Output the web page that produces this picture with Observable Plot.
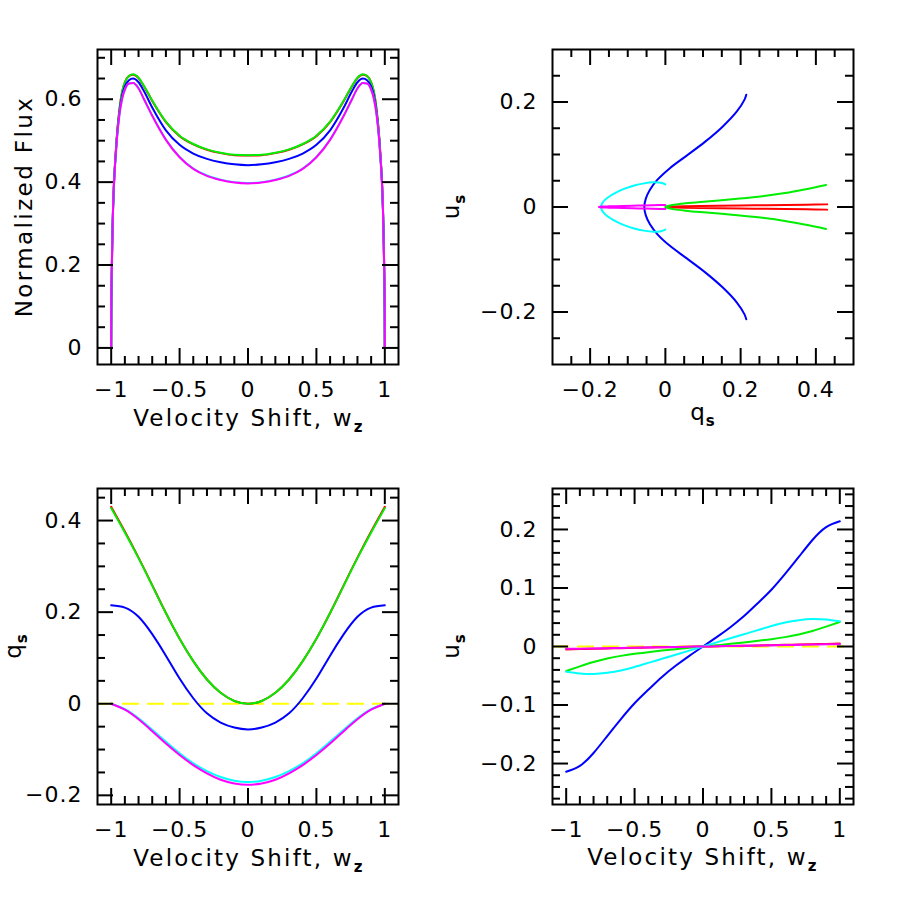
<!DOCTYPE html>
<html><head><meta charset="utf-8">
<script src="https://cdn.jsdelivr.net/npm/d3@7"></script>
<script src="https://cdn.jsdelivr.net/npm/@observablehq/plot@0.6"></script>
<style>
body{margin:0;background:#fff;}
#chart{position:relative;width:900px;height:900px;background:#fff;}
#chart svg{position:absolute;overflow:visible;}
</style></head><body><div id="chart"></div>
<script>
// ---------- data ----------
const seriesNames = ["red", "green", "blue", "cyan", "magenta"];
const seriesColors = ["#ff0000", "#00ee00", "#0000ff", "#00ffff", "#ff00ff"];
const zeroColor = "#ffff00";

// flux profiles (panel 1)
const fluxW = [-1,-0.999,-0.995,-0.99,-0.98,-0.97,-0.96,-0.94,-0.92,-0.9,-0.87,-0.84,-0.8,-0.76,-0.7,-0.6,-0.5,-0.4,-0.3,-0.2,-0.1,0,
  0.1,0.2,0.3,0.4,0.5,0.6,0.7,0.76,0.8,0.84,0.87,0.9,0.92,0.94,0.96,0.97,0.98,0.99,0.995,0.999,1];
const fluxRed = [0,0.09,0.20,0.29,0.395,0.455,0.505,0.575,0.618,0.641,0.656,0.659,0.651,0.631,0.596,0.545,0.511,0.491,0.478,0.470,0.465,0.464,
  0.465,0.470,0.478,0.491,0.511,0.545,0.596,0.631,0.651,0.659,0.656,0.641,0.618,0.575,0.505,0.455,0.395,0.29,0.20,0.09,0];
const fluxGreen = [0,0.09,0.20,0.29,0.395,0.455,0.505,0.575,0.618,0.641,0.656,0.660,0.652,0.632,0.597,0.546,0.512,0.492,0.479,0.471,0.466,0.465,
  0.466,0.471,0.479,0.492,0.512,0.546,0.597,0.632,0.652,0.660,0.656,0.641,0.618,0.575,0.505,0.455,0.395,0.29,0.20,0.09,0];
const fluxBlue = [0,0.09,0.20,0.29,0.393,0.452,0.500,0.568,0.609,0.631,0.646,0.650,0.641,0.619,0.580,0.525,0.490,0.469,0.456,0.448,0.443,0.441,
  0.443,0.448,0.456,0.469,0.490,0.525,0.580,0.619,0.641,0.650,0.646,0.631,0.609,0.568,0.500,0.452,0.393,0.29,0.20,0.09,0];
const fluxCyan = [0,0.09,0.20,0.29,0.392,0.450,0.497,0.562,0.601,0.623,0.638,0.639,0.627,0.600,0.561,0.503,0.461,0.433,0.416,0.406,0.400,0.398,
  0.400,0.406,0.416,0.433,0.461,0.503,0.561,0.600,0.627,0.639,0.638,0.623,0.601,0.562,0.497,0.450,0.392,0.29,0.20,0.09,0];
const fluxMagenta = [0,0.09,0.20,0.29,0.392,0.450,0.497,0.562,0.601,0.623,0.638,0.639,0.626,0.600,0.560,0.502,0.460,0.432,0.415,0.405,0.399,0.397,
  0.399,0.405,0.415,0.432,0.460,0.502,0.560,0.600,0.626,0.639,0.638,0.623,0.601,0.562,0.497,0.450,0.392,0.29,0.20,0.09,0];

// polarization q_s and u_s vs velocity shift (panels 2-4)
const polW = [-1,-0.9,-0.8,-0.7,-0.6,-0.5,-0.4,-0.3,-0.2,-0.1,0,0.1,0.2,0.3,0.4,0.5,0.6,0.7,0.8,0.9,1];
const qRed = [0.430,0.376,0.319,0.259,0.198,0.142,0.093,0.053,0.024,0.006,0,0.006,0.024,0.053,0.093,0.142,0.198,0.259,0.319,0.376,0.430];
const qGreen = [0.427,0.374,0.318,0.258,0.198,0.142,0.093,0.053,0.024,0.006,0,0.006,0.024,0.053,0.093,0.142,0.198,0.258,0.318,0.374,0.427];
const qBlue = [0.215,0.210,0.190,0.152,0.105,0.055,0.012,-0.021,-0.041,-0.052,-0.056,-0.052,-0.041,-0.021,0.012,0.055,0.105,0.152,0.190,0.210,0.215];
const qCyan = [0,-0.012,-0.032,-0.057,-0.083,-0.108,-0.130,-0.147,-0.160,-0.168,-0.171,-0.168,-0.160,-0.147,-0.130,-0.108,-0.083,-0.057,-0.032,-0.012,0];
const qMagenta = [0,-0.013,-0.034,-0.060,-0.087,-0.112,-0.134,-0.152,-0.166,-0.174,-0.177,-0.174,-0.166,-0.152,-0.134,-0.112,-0.087,-0.060,-0.034,-0.013,0];
const uRed = [-0.005,-0.0044,-0.0038,-0.0033,-0.0028,-0.0023,-0.0018,-0.0013,-0.0009,-0.0004,0,0.0004,0.0009,0.0013,0.0018,0.0023,0.0028,0.0033,0.0038,0.0044,0.005];
const uGreen = [-0.042,-0.034,-0.0265,-0.0205,-0.016,-0.0125,-0.0097,-0.007,-0.0045,-0.002,0,0.002,0.0045,0.007,0.0097,0.0125,0.016,0.0205,0.0265,0.034,0.042];
const uBlue = [-0.214,-0.204,-0.182,-0.153,-0.124,-0.097,-0.074,-0.052,-0.033,-0.016,0,0.016,0.033,0.052,0.074,0.097,0.124,0.153,0.182,0.204,0.214];
const uCyan = [-0.043,-0.046,-0.047,-0.045,-0.041,-0.035,-0.028,-0.021,-0.014,-0.007,0,0.007,0.014,0.021,0.028,0.035,0.041,0.045,0.047,0.046,0.043];
const uMagenta = [-0.004,-0.0037,-0.0033,-0.0029,-0.0025,-0.002,-0.0016,-0.0012,-0.0008,-0.0004,0,0.0004,0.0008,0.0012,0.0016,0.002,0.0025,0.0029,0.0033,0.0037,0.004];

// tick values
const wMajor = [-1,-0.5,0,0.5,1];
const wMinor = [-0.9,-0.8,-0.7,-0.6,-0.4,-0.3,-0.2,-0.1,0.1,0.2,0.3,0.4,0.6,0.7,0.8,0.9];
const fluxMajor = [0,0.2,0.4,0.6];
const fluxMinor = [0.05,0.1,0.15,0.25,0.3,0.35,0.45,0.5,0.55,0.65,0.7];
const qsMajor = [-0.2,0,0.2,0.4];
const qsMinorX = [-0.25,-0.15,-0.1,-0.05,0.05,0.1,0.15,0.25,0.3,0.35,0.45];
const usMajor2 = [-0.2,0,0.2];
const usMinor2 = [-0.25,-0.15,-0.1,-0.05,0.05,0.1,0.15,0.25];
const qsMinorY = [-0.15,-0.1,-0.05,0.05,0.1,0.15,0.25,0.3,0.35,0.45];
const usMajor4 = [-0.2,-0.1,0,0.1,0.2];
const usMinor4 = [-0.26,-0.24,-0.22,-0.18,-0.16,-0.14,-0.12,-0.08,-0.06,-0.04,-0.02,0.02,0.04,0.06,0.08,0.12,0.14,0.16,0.18,0.22,0.24,0.26];

// ---------- helpers ----------
const fluxSeries = [fluxRed, fluxGreen, fluxBlue, fluxCyan, fluxMagenta];
const qSeries = [qRed, qGreen, qBlue, qCyan, qMagenta];
const uSeries = [uRed, uGreen, uBlue, uCyan, uMagenta];
const fmt = d3.format("");
const FONT = "DejaVu Sans, Verdana, sans-serif";

function tickMarks(FW, FH, xMaj, xMin, yMaj, yMin) {
  const s = {stroke: "black", strokeWidth: 2};
  return [
    Plot.tickX(xMaj, {x: d => d, insetTop: FH - 16, ...s}),
    Plot.tickX(xMaj, {x: d => d, insetBottom: FH - 16, ...s}),
    Plot.tickX(xMin, {x: d => d, insetTop: FH - 8, ...s}),
    Plot.tickX(xMin, {x: d => d, insetBottom: FH - 8, ...s}),
    Plot.tickY(yMaj, {y: d => d, insetRight: FW - 16, ...s}),
    Plot.tickY(yMaj, {y: d => d, insetLeft: FW - 16, ...s}),
    Plot.tickY(yMin, {y: d => d, insetRight: FW - 8, ...s}),
    Plot.tickY(yMin, {y: d => d, insetLeft: FW - 8, ...s})
  ];
}

function panel(cfg) {
  const FW = cfg.width - cfg.mL - cfg.mR;
  const FH = cfg.height - cfg.mT - cfg.mB;
  const svg = Plot.plot({
    width: cfg.width, height: cfg.height,
    marginLeft: cfg.mL, marginRight: cfg.mR, marginTop: cfg.mT, marginBottom: cfg.mB,
    x: {domain: cfg.xDomain}, y: {domain: cfg.yDomain},
    style: {fontFamily: FONT, fontSize: "22px", color: "black", background: "transparent", letterSpacing: "1px", overflow: "visible"},
    marks: [
      ...(cfg.zero ? [Plot.ruleY([0], {stroke: zeroColor, strokeWidth: 2, strokeDasharray: "17,8"})] : []),
      ...cfg.lines,
      Plot.frame({stroke: "black", strokeWidth: 2}),
      ...tickMarks(FW, FH, cfg.xMajor, cfg.xMinor, cfg.yMajor, cfg.yMinor),
      Plot.axisX(cfg.xMajor, {anchor: "bottom", tickSize: 0, tickPadding: 17, tickFormat: fmt, label: null, fontSize: 22}),
      Plot.axisY(cfg.yMajor, {anchor: "left", tickSize: 0, tickPadding: 15, tickFormat: fmt, label: null, fontSize: 22})
    ]
  });
  svg.style.left = cfg.left + "px";
  svg.style.top = cfg.top + "px";
  const s = d3.select(svg);
  addLabel(s, cfg.xLabel, false);
  addLabel(s, cfg.yLabel, true);
  document.getElementById("chart").appendChild(svg);
}

function addLabel(s, L, rotated) {
  const t = s.append("text")
    .attr("text-anchor", "middle")
    .attr("font-family", FONT)
    .attr("font-size", 23)
    .attr("letter-spacing", L.ls)
    .attr("fill", "black")
    .attr("transform", rotated ? `translate(${L.x},${L.y}) rotate(-90)` : `translate(${L.x},${L.y})`);
  t.append("tspan").text(L.main);
  if (L.sub) t.append("tspan").attr("font-size", 15).attr("font-weight", "bold").attr("dy", 6).text(L.sub);
}

function lineMarks(xs, ysList, curve) {
  return ysList.map((ys, i) => Plot.line(xs.map((x, j) => ({x, y: ys[j]})),
    {x: "x", y: "y", stroke: seriesColors[i], strokeWidth: 2, curve}));
}
function paramMarks(aList, bList) {
  return aList.map((a, i) => Plot.line(a.map((q, j) => ({q, u: bList[i][j]})),
    {x: "q", y: "u", stroke: seriesColors[i], strokeWidth: 2, curve: "catmull-rom"}));
}

const xLab = "Velocity Shift, w";

// panel 1: flux
panel({left: 0, top: 0, width: 450, height: 450, mL: 97, mR: 52, mT: 49, mB: 86,
  xDomain: [-1.1, 1.1], yDomain: [-0.04, 0.72],
  xMajor: wMajor, xMinor: wMinor, yMajor: fluxMajor, yMinor: fluxMinor,
  lines: lineMarks(fluxW, fluxSeries, "monotone-x"),
  xLabel: {main: xLab, sub: "z", x: 249, y: 426, ls: 2.2},
  yLabel: {main: "Normalized Flux", sub: "", x: 32, y: 206.5, ls: 2.4}
});
// panel 2: u_s vs q_s
panel({left: 440, top: 0, width: 460, height: 450, mL: 112, mR: 47, mT: 49, mB: 86,
  xDomain: [-0.3, 0.5], yDomain: [-0.3, 0.3],
  xMajor: qsMajor, xMinor: qsMinorX, yMajor: usMajor2, yMinor: usMinor2,
  lines: paramMarks(qSeries, uSeries),
  xLabel: {main: "q", sub: "s", x: 263, y: 420, ls: 1},
  yLabel: {main: "u", sub: "s", x: 19, y: 206.5, ls: 1}
});
// panel 3: q_s vs w
panel({left: 0, top: 450, width: 450, height: 450, mL: 97, mR: 52, mT: 38, mB: 96,
  xDomain: [-1.1, 1.1], yDomain: [-0.22, 0.47], zero: true,
  xMajor: wMajor, xMinor: wMinor, yMajor: qsMajor, yMinor: qsMinorY,
  lines: lineMarks(polW, qSeries, "natural"),
  xLabel: {main: xLab, sub: "z", x: 249, y: 416, ls: 2.2},
  yLabel: {main: "q", sub: "s", x: 21, y: 196, ls: 1}
});
// panel 4: u_s vs w
panel({left: 440, top: 450, width: 460, height: 450, mL: 112, mR: 47, mT: 38, mB: 96,
  xDomain: [-1.1, 1.1], yDomain: [-0.27, 0.27], zero: true,
  xMajor: wMajor, xMinor: wMinor, yMajor: usMajor4, yMinor: usMinor4,
  lines: lineMarks(polW, uSeries, "natural"),
  xLabel: {main: xLab, sub: "z", x: 263, y: 415, ls: 2.2},
  yLabel: {main: "u", sub: "s", x: 19, y: 196, ls: 1}
});
</script></body></html>
